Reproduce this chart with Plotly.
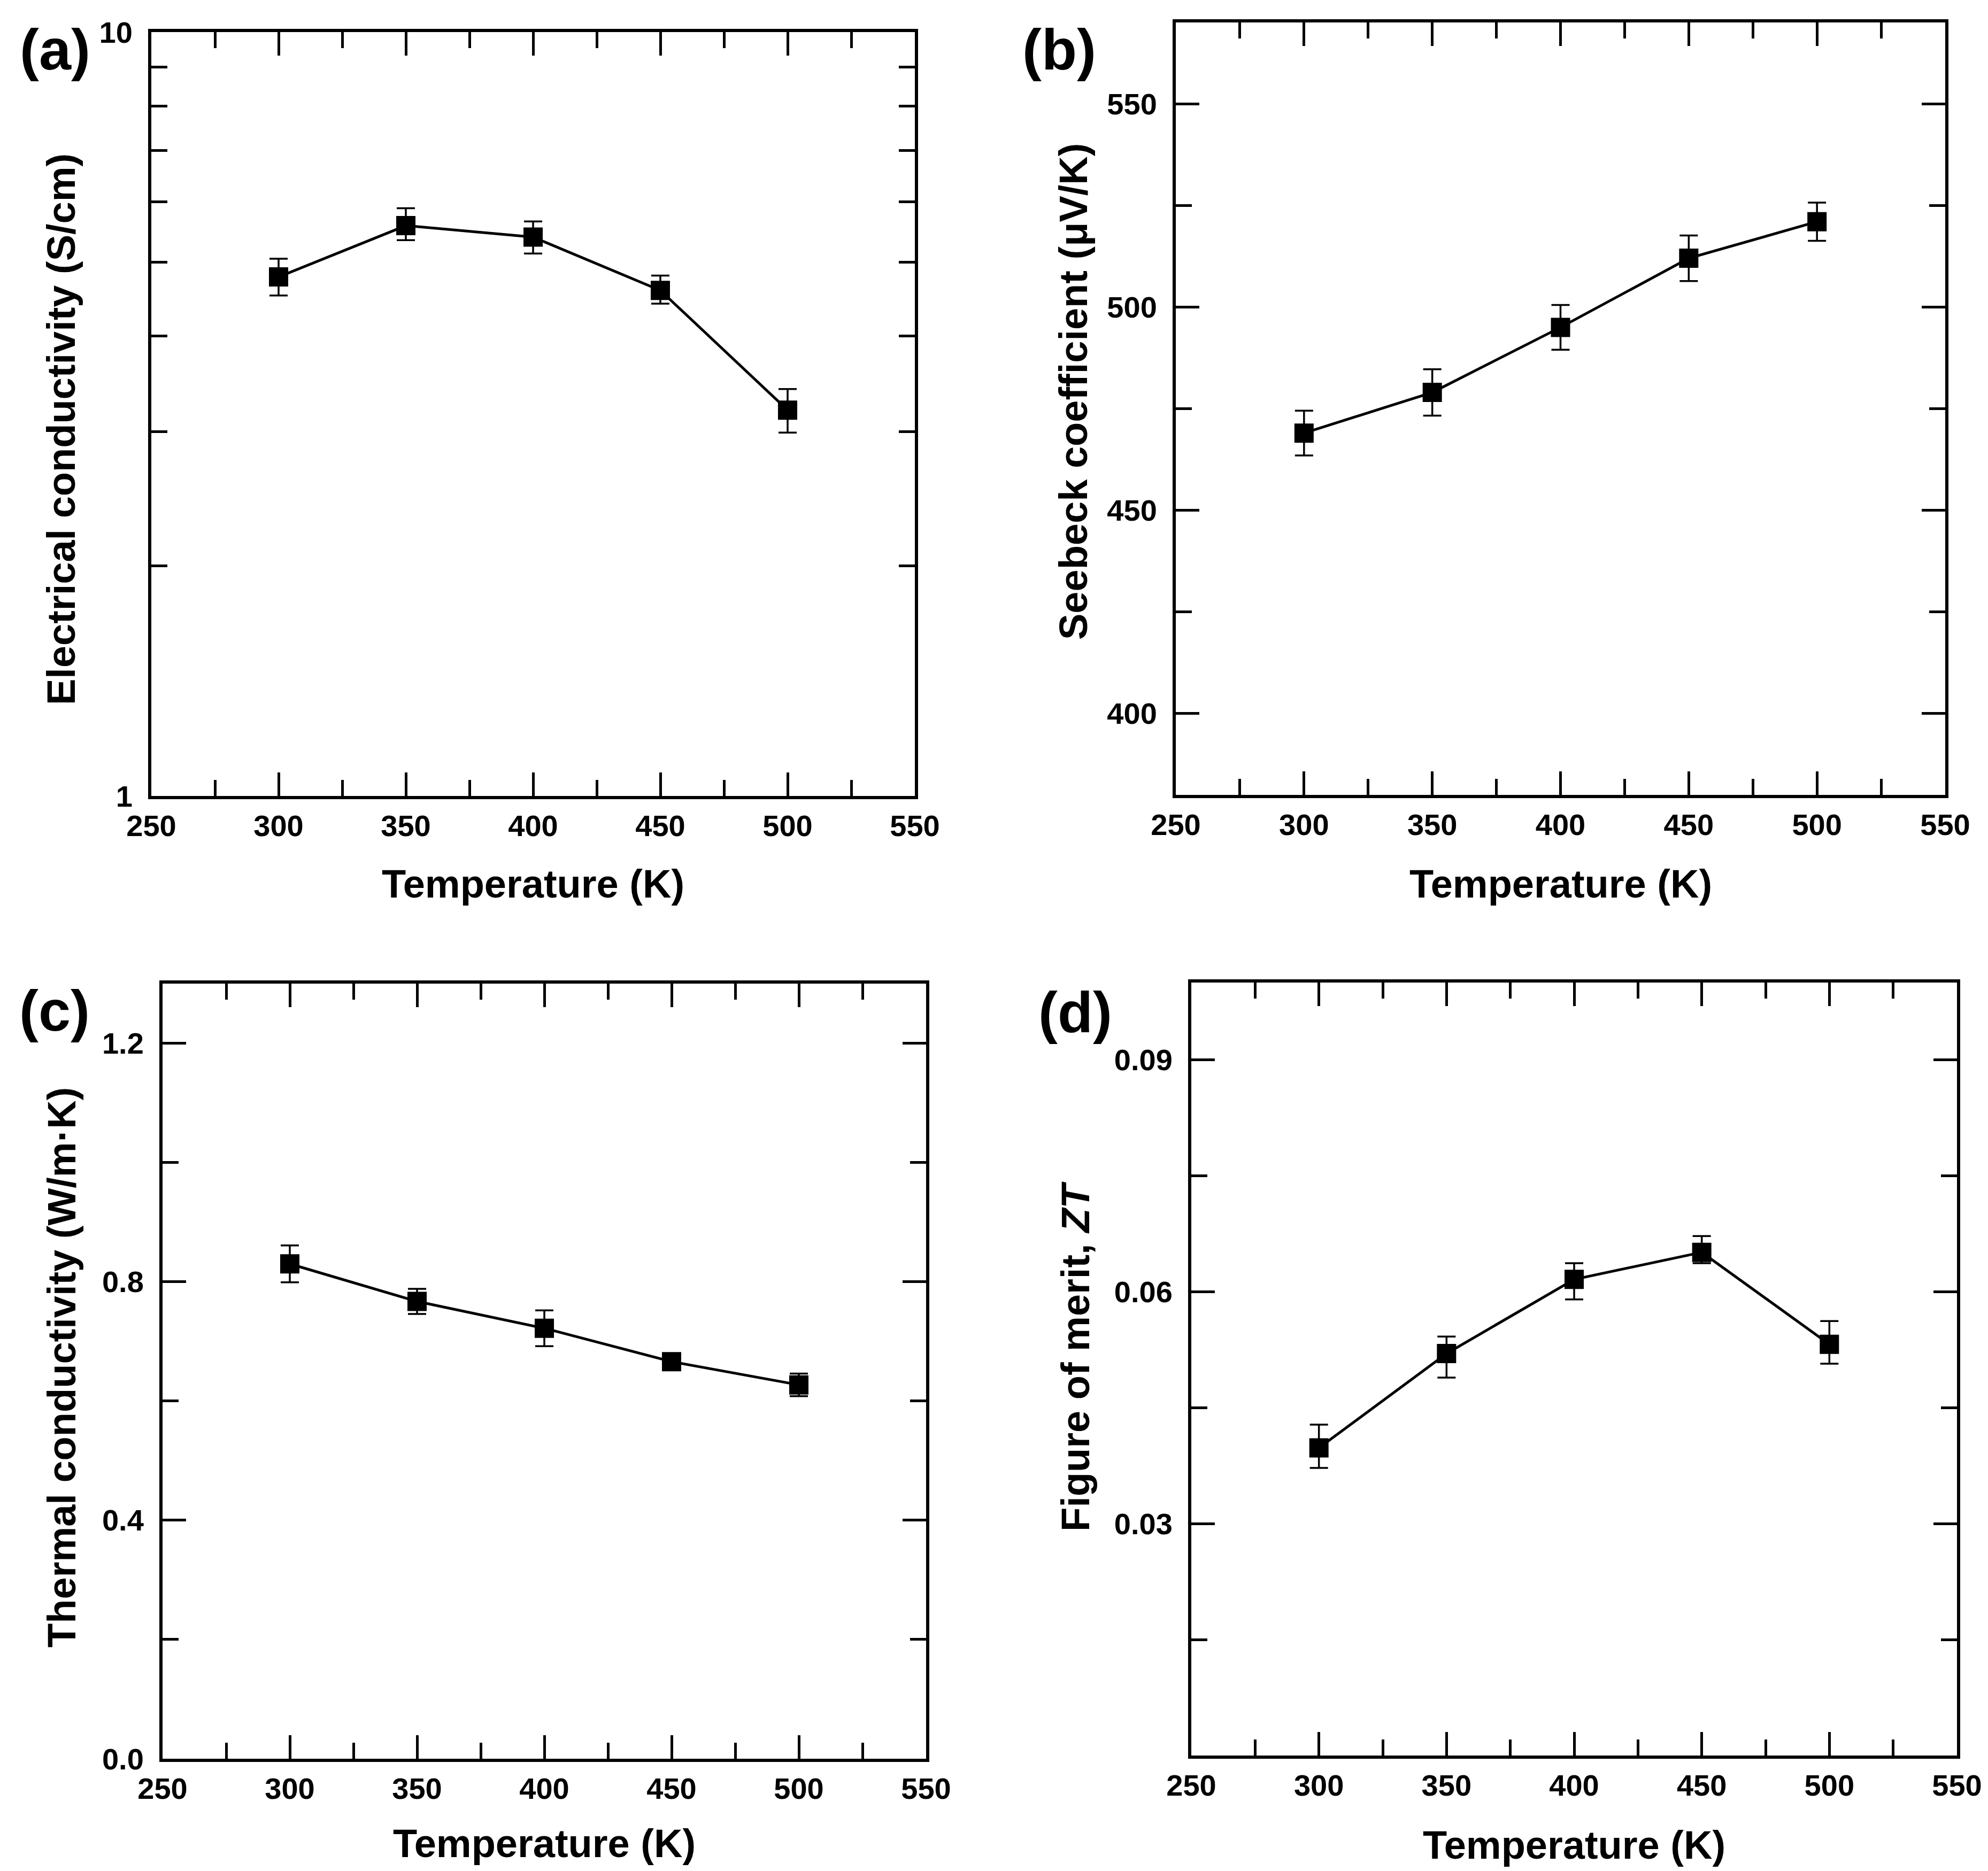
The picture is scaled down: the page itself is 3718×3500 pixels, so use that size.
import plotly.graph_objects as go
from plotly.subplots import make_subplots

W, H = 3718, 3500

# temperatures (K)
temps = [300, 350, 400, 450, 500]

# (a) electrical conductivity (S/cm), log axis
sigma = [4.78, 5.58, 5.39, 4.59, 3.20]
sigma_err_plus = [0.27, 0.30, 0.26, 0.21, 0.21]
sigma_err_minus = [0.26, 0.24, 0.26, 0.18, 0.21]

# (b) Seebeck coefficient (uV/K)
seebeck = [469, 479, 495, 512, 521]
seebeck_err = [5.5, 5.7, 5.5, 5.6, 4.7]

# (c) thermal conductivity (W/m.K)
kappa = [0.830, 0.767, 0.722, 0.666, 0.627]
kappa_err = [0.031, 0.021, 0.030, 0.013, 0.019]

# (d) figure of merit ZT
zt = [0.0398, 0.0520, 0.0616, 0.0651, 0.0532]
zt_err_plus = [0.0030, 0.0022, 0.0021, 0.0021, 0.0030]
zt_err_minus = [0.0026, 0.0031, 0.0026, 0.0014, 0.0025]

x_ticks = [250, 300, 350, 400, 450, 500, 550]
log_ticks = [1, 2, 3, 4, 5, 6, 7, 8, 9, 10]
log_labels = ['1', '', '', '', '', '', '', '', '', '10']

# panel frames in pixels: left, right, top, bottom
frames = {
    'a': (275, 1703, 52, 1481),
    'b': (2191, 3630, 34, 1479),
    'c': (296, 1724, 1832, 3282),
    'd': (2220, 3652, 1830, 3276),
}

FONT = 'Liberation Sans'
BLACK = 'black'

fig = make_subplots(rows=2, cols=2)


def add_series(row, col, y, plus, minus=None):
    err = dict(type='data', array=plus, symmetric=minus is None,
               color=BLACK, thickness=3.5, width=17)
    if minus is not None:
        err['arrayminus'] = minus
    fig.add_trace(go.Scatter(
        x=temps, y=y, mode='lines+markers',
        line=dict(color=BLACK, width=5),
        marker=dict(symbol='square', size=36, color=BLACK),
        error_y=err, showlegend=False), row=row, col=col)


add_series(1, 1, sigma, sigma_err_plus, sigma_err_minus)
add_series(1, 2, seebeck, seebeck_err)
add_series(2, 1, kappa, kappa_err)
add_series(2, 2, zt, zt_err_plus, zt_err_minus)

tickfont = dict(family=FONT, size=56, color=BLACK, weight='bold')
axis_common = dict(showline=True, linecolor=BLACK, linewidth=6, mirror='allticks',
                   ticks='inside', tickcolor=BLACK, tickwidth=5, ticklen=44,
                   showgrid=False, zeroline=False, tickfont=tickfont,
                   automargin=False)

names = ['a', 'b', 'c', 'd']
for i, key in enumerate(names):
    l, r, t, b = frames[key]
    xa = 'xaxis' if i == 0 else 'xaxis%d' % (i + 1)
    ya = 'yaxis' if i == 0 else 'yaxis%d' % (i + 1)
    fig.layout[xa].update(domain=[l / W, r / W], range=[250, 550],
                          tickvals=x_ticks, ticklabelstandoff=2,
                          minor=dict(dtick=25, tick0=250, ticks='inside', ticklen=30,
                                     tickwidth=5, tickcolor=BLACK),
                          **axis_common)
    fig.layout[ya].update(domain=[1 - b / H, 1 - t / H], ticklabelstandoff=18)
    fig.layout[ya].update(**axis_common)

# (a) log axis 1..10
fig.layout.yaxis.update(type='log', range=[0, 1], tickvals=log_ticks,
                        ticktext=log_labels, ticklen=30)
# (b)
fig.layout.yaxis2.update(range=[380, 570], tickvals=[400, 450, 500, 550],
                         minor=dict(dtick=25, tick0=0, ticks='inside', ticklen=30,
                                    tickwidth=5, tickcolor=BLACK))
# (c)
fig.layout.yaxis3.update(range=[0, 1.3], tickvals=[0.0, 0.4, 0.8, 1.2], tickformat='.1f',
                         minor=dict(dtick=0.2, tick0=0, ticks='inside', ticklen=30,
                                    tickwidth=5, tickcolor=BLACK))
# (d)
fig.layout.yaxis4.update(range=[0, 0.1], tickvals=[0.03, 0.06, 0.09], tickformat='.2f',
                         minor=dict(dtick=0.015, tick0=0, ticks='inside', ticklen=30,
                                    tickwidth=5, tickcolor=BLACK))

title_font = dict(family=FONT, size=74, color=BLACK, weight='bold')
label_font = dict(family=FONT, size=108, color=BLACK, weight='bold')

y_titles = {
    'a': ('Electrical conductivity (S/cm)', 107, 795),
    'b': ('Seebeck coefficient (μV/K)', 1999, 725),
    'c': ('Thermal conductivity (W/m·K)', 107, 2550),
    'd': ('Figure of merit, <i>ZT</i>', 2003, 2530),
}
x_title_y = {'a': 1645, 'b': 1645, 'c': 3440, 'd': 3443}
panel_labels = {'a': (95, 85), 'b': (1973, 85), 'c': (94, 1882), 'd': (2003, 1885)}

annotations = []
for key in names:
    l, r, t, b = frames[key]
    annotations.append(dict(text='Temperature (K)', x=(l + r) / 2 / W, y=1 - x_title_y[key] / H,
                            xref='paper', yref='paper', xanchor='center', yanchor='middle',
                            showarrow=False, font=title_font))
    text, tx, ty = y_titles[key]
    annotations.append(dict(text=text, x=tx / W, y=1 - ty / H, textangle=-90,
                            xref='paper', yref='paper', xanchor='center', yanchor='middle',
                            showarrow=False, font=title_font))
    px, py = panel_labels[key]
    annotations.append(dict(text='(%s)' % key, x=px / W, y=1 - py / H,
                            xref='paper', yref='paper', xanchor='center', yanchor='middle',
                            showarrow=False, font=label_font))

fig.update_layout(width=W, height=H, margin=dict(l=0, r=0, t=0, b=0, pad=0),
                  paper_bgcolor='white', plot_bgcolor='white',
                  annotations=annotations, showlegend=False)

fig.write_html("out.html")
